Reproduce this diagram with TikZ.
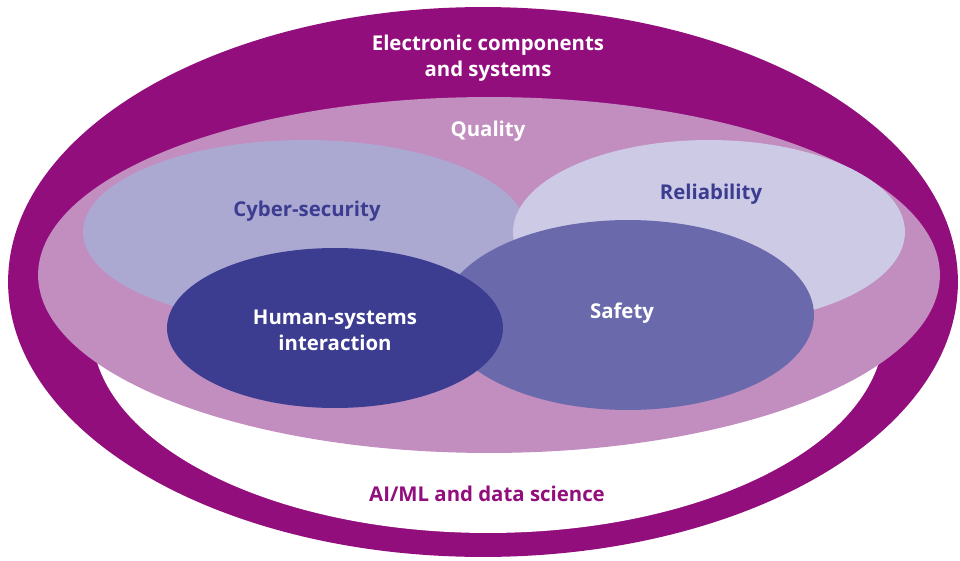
\documentclass[tikz,border=0pt]{standalone}
\usepackage{fontspec}
\setmainfont{Open Sans}
\usetikzlibrary{positioning,shapes.geometric}
\definecolor{Plum}{HTML}{930E7D}
\definecolor{Mauve}{HTML}{C28DBF}
\definecolor{Lilac}{HTML}{ABA9D2}
\definecolor{PaleLilac}{HTML}{CDCAE6}
\definecolor{Periwinkle}{HTML}{6A69AB}
\definecolor{Indigo}{HTML}{3C3D91}

\begin{document}
\begin{tikzpicture}[x=0.02cm,y=-0.02cm,font=\bfseries\fontsize{11.6}{15}\selectfont,
    blob/.style={ellipse,inner sep=0pt,draw=none},
    caption/.style={align=center,text=white}]
  \useasboundingbox (0,0) rectangle (960,561);
  % nested sets
  \node[blob,fill=Plum,minimum width=19cm,minimum height=11cm] (outer) at (483,282) {};
  \node[blob,fill=white,minimum width=15.84cm,minimum height=8.12cm] (inner) at (488,330) {};
  \node[blob,fill=Mauve,minimum width=18.04cm,minimum height=7.12cm] (quality) at (489,275) {};
  % overlapping aspects
  \node[blob,fill=Lilac,minimum width=8.88cm,minimum height=3.68cm] (cyber) at (305,232) {};
  \node[blob,fill=PaleLilac,minimum width=7.84cm,minimum height=3.68cm] (reli) at (709,232) {};
  \node[blob,fill=Periwinkle,minimum width=7.44cm,minimum height=3.8cm] (safety) at (628,315) {};
  \node[blob,fill=Indigo,minimum width=6.72cm,minimum height=3.2cm] (hsi) at (335,328) {};
  % labels
  \node[caption] (t-ecs) at (488,58) {Electronic components\\and systems};
  \node[caption] (t-qual) at (488,131) {Quality};
  \node[caption,text=Indigo] (t-cyber) at (307,211) {Cyber-security};
  \node[caption,text=Indigo] (t-reli) at (711,194) {Reliability};
  \node[caption] (t-hsi) at (335,330) {Human-systems\\interaction};
  \node[caption] (t-safety) at (622,313) {Safety};
  \node[caption,text=Plum] (t-ai) at (487,494) {AI/ML and data science};
\end{tikzpicture}
\end{document}
